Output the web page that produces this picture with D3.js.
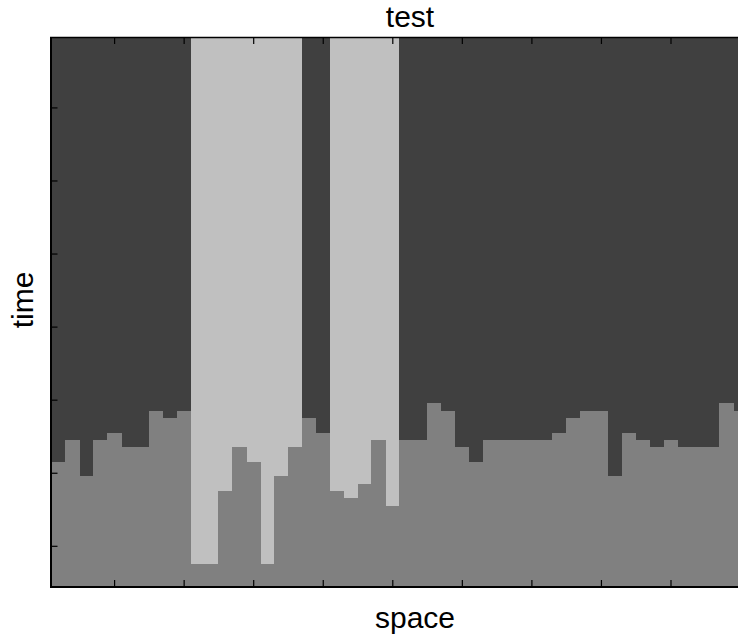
<!DOCTYPE html>
<html>
	<head>
		<title>test</title>
		<script src="https://d3js.org/d3.v7.min.js"></script>
		<style>
			body { margin: 0; background: #fff; }
			text { font-family: "Liberation Sans", Arial, Helvetica, sans-serif; fill: #000; }
		</style>
	</head>
	<body>
		<svg width="738" height="638"></svg>

		<script type="text/javascript">
			// space index (columns) and the time row where the grey band starts
			var space = d3.range(1, 51);
			var greyFrom = [58, 55, 60, 55, 54, 56, 56, 51, 52, 51,
			                72, 72, 62, 56, 58, 72, 60, 56, 52, 54,
			                62, 63, 61, 55, 64, 55, 55, 50, 51, 56,
			                58, 55, 55, 55, 55, 55, 54, 52, 51, 51,
			                60, 54, 55, 56, 55, 56, 56, 56, 50, 51];
			// 1 = light shade above the grey band, 0 = dark shade
			var lightAbove = [0, 0, 0, 0, 0, 0, 0, 0, 0, 0,
			                  1, 1, 1, 1, 1, 1, 1, 1, 0, 0,
			                  1, 1, 1, 1, 1, 0, 0, 0, 0, 0,
			                  0, 0, 0, 0, 0, 0, 0, 0, 0, 0,
			                  0, 0, 0, 0, 0, 0, 0, 0, 0, 0];
			var nRows = 75;
			var xTicks = [5, 10, 15, 20, 25, 30, 35, 40, 45, 50];
			var yTicks = [10, 20, 30, 40, 50, 60, 70];

			var shade = { dark: '#404040', grey: '#808080', light: '#c0c0c0' };

			var plotLeft = 51.5, plotRight = 747, plotTop = 38, plotBottom = 586;

			var xScale = d3.scaleLinear()
				.domain([0.5, space.length + 0.5])
				.range([plotLeft, plotRight]);

			var yScale = d3.scaleLinear()
				.domain([0.5, nRows + 0.5])
				.range([plotTop, plotBottom]);

			var svg = d3.select('svg');

			var cols = space.map(function (s, i) {
				return { s: s, from: greyFrom[i], light: lightAbove[i] };
			});

			var plot = svg.append('g').attr('shape-rendering', 'crispEdges');

			// upper part of each column
			plot.selectAll('rect.upper')
				.data(cols).enter()
				.append('rect')
				.attr('class', 'upper')
				.attr('x', function (d) { return xScale(d.s - 0.5); })
				.attr('width', function (d) { return xScale(d.s + 0.5) - xScale(d.s - 0.5) + 0.5; })
				.attr('y', yScale(0.5))
				.attr('height', function (d) { return yScale(d.from + 0.5) - yScale(0.5); })
				.attr('fill', function (d) { return d.light ? shade.light : shade.dark; });

			// grey band below
			plot.selectAll('rect.lower')
				.data(cols).enter()
				.append('rect')
				.attr('class', 'lower')
				.attr('x', function (d) { return xScale(d.s - 0.5); })
				.attr('width', function (d) { return xScale(d.s + 0.5) - xScale(d.s - 0.5) + 0.5; })
				.attr('y', function (d) { return yScale(d.from + 0.5); })
				.attr('height', function (d) { return yScale(nRows + 0.5) - yScale(d.from + 0.5); })
				.attr('fill', shade.grey);

			// ticks pointing inwards on every side
			var tickLen = 6;
			function noDomain(g) { g.select('.domain').remove(); }
			svg.append('g')
				.attr('transform', 'translate(0,' + plotBottom + ')')
				.call(d3.axisBottom(xScale).tickValues(xTicks).tickSize(-tickLen).tickFormat(''))
				.call(noDomain);
			svg.append('g')
				.attr('transform', 'translate(0,' + plotTop + ')')
				.call(d3.axisTop(xScale).tickValues(xTicks).tickSize(-tickLen).tickFormat(''))
				.call(noDomain);
			svg.append('g')
				.attr('transform', 'translate(' + plotLeft + ',0)')
				.call(d3.axisLeft(yScale).tickValues(yTicks).tickSize(-tickLen).tickFormat(''))
				.call(noDomain);
			svg.append('g')
				.attr('transform', 'translate(' + plotRight + ',0)')
				.call(d3.axisRight(yScale).tickValues(yTicks).tickSize(-tickLen).tickFormat(''))
				.call(noDomain);
			svg.selectAll('.tick line').attr('stroke', '#000').attr('stroke-width', 1.2);

			// box
			svg.append('line').attr('x1', 51).attr('x2', 51).attr('y1', plotTop - 1).attr('y2', plotBottom + 2)
				.attr('stroke', '#000').attr('stroke-width', 2);
			svg.append('line').attr('x1', 50).attr('x2', plotRight).attr('y1', plotBottom + 1).attr('y2', plotBottom + 1)
				.attr('stroke', '#000').attr('stroke-width', 2);
			svg.append('line').attr('x1', 50).attr('x2', plotRight).attr('y1', plotTop - 0.5).attr('y2', plotTop - 0.5)
				.attr('stroke', '#000').attr('stroke-width', 1.5);

			// labels
			svg.append('text')
				.attr('x', 410).attr('y', 27)
				.attr('text-anchor', 'middle')
				.style('font-size', '30px')
				.text('test');
			svg.append('text')
				.attr('x', 415).attr('y', 628)
				.attr('text-anchor', 'middle')
				.style('font-size', '30px')
				.text('space');
			svg.append('text')
				.attr('transform', 'translate(33,300) rotate(-90)')
				.attr('text-anchor', 'middle')
				.style('font-size', '30px')
				.text('time');
		</script>
	</body>
</html>
